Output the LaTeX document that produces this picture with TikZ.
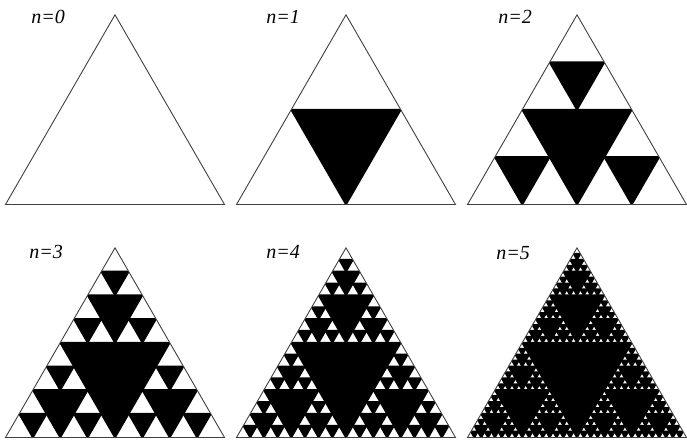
\documentclass[tikz,border=0pt]{standalone}
\usepackage{fontspec}
\setmainfont{Liberation Serif}
\makeatletter
\def\sierp#1#2#3#4{%
  \ifnum#1>0
    \begingroup
    \pgfmathsetmacro\hs{#4/2}%
    \pgfmathsetmacro\hh{#4*0.4330127}%
    \pgfmathsetmacro\xa{#2+#4/4}%
    \pgfmathsetmacro\xb{#2+#4/2}%
    \pgfmathsetmacro\xc{#2+3*#4/4}%
    \pgfmathsetmacro\yb{#3-\hh}%
    \filldraw[hole] (\xa,\yb) -- (\xc,\yb) -- (\xb,#3) -- cycle;
    \pgfmathtruncatemacro\lv{#1-1}%
    \edef\next{\noexpand\sierp{\lv}{#2}{#3}{\hs}\noexpand\sierp{\lv}{\xb}{#3}{\hs}\noexpand\sierp{\lv}{\xa}{\yb}{\hs}}%
    \expandafter\endgroup\next
  \fi}
\makeatother
\tikzset{
  hole/.style={fill=black, draw=black, line width=1.7pt, line join=round},
  outline/.style={draw=black!75, line width=0.9pt, line join=miter},
  lbl/.style={font=\rmfamily\itshape\fontsize{20}{20}\selectfont, inner sep=0pt}
}
\newcommand\sierfig[5]{% level, base-left x, base y, side, name
  \coordinate (#5-l) at (#2,#3);
  \coordinate (#5-r) at ({#2+#4},#3);
  \coordinate (#5-t) at ({#2+#4/2},{#3-#4*0.8660254});
  \begin{scope}
    \clip (#5-l) -- (#5-r) -- (#5-t) -- cycle;
    \sierp{#1}{#2}{#3}{#4}
  \end{scope}
  \draw[outline] (#5-l) -- (#5-r) -- (#5-t) -- cycle;
}
\begin{document}
\begin{tikzpicture}[x=1pt,y=-1pt]
  \useasboundingbox (0,0) rectangle (687,441);
  \sierfig{0}{5.5}{204.5}{219}{t0}
  \sierfig{1}{236.5}{204.5}{219}{t1}
  \sierfig{2}{467.5}{204.5}{219}{t2}
  \sierfig{3}{5.5}{437.5}{219}{t3}
  \sierfig{4}{236.5}{437.5}{219}{t4}
  \sierfig{5}{467.5}{437.5}{219}{t5}
  \node[lbl] (l0) at (48,17) {n=0};
  \node[lbl] (l1) at (283,17) {n=1};
  \node[lbl] (l2) at (515,17) {n=2};
  \node[lbl] (l3) at (46,252) {n=3};
  \node[lbl] (l4) at (283,252) {n=4};
  \node[lbl] (l5) at (513,253) {n=5};
\end{tikzpicture}
\end{document}
